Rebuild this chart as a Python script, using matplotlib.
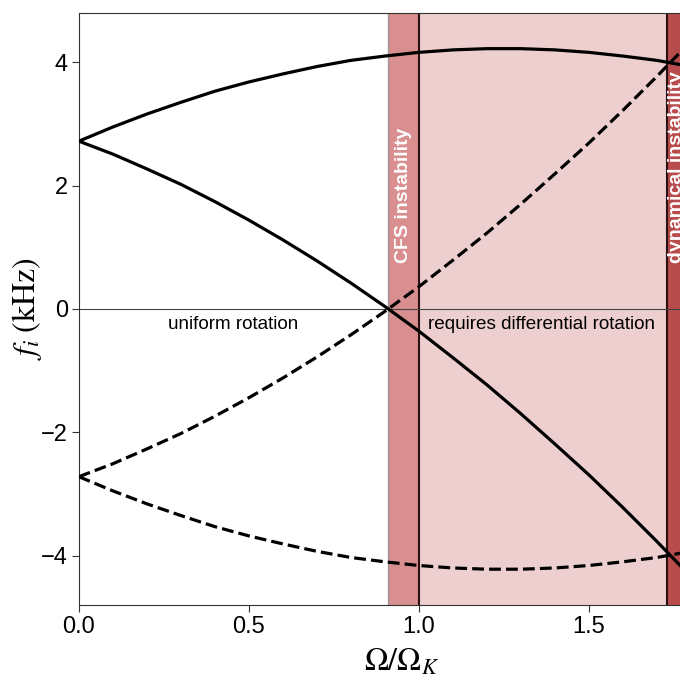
import matplotlib
matplotlib.use("Agg")
import matplotlib.pyplot as plt

plt.rcParams['font.family'] = ['Liberation Sans', 'DejaVu Sans']
plt.rcParams['mathtext.fontset'] = 'stix'

# rotation rate Omega/Omega_K
omega = [0.0, 0.1, 0.2, 0.3, 0.4, 0.5, 0.6, 0.7, 0.8, 0.9, 1.0, 1.1, 1.2,
         1.3, 1.4, 1.5, 1.6, 1.7, 1.8]
# solid branches (kHz)
f_upper = [2.72, 2.95, 3.16, 3.35, 3.53, 3.68, 3.81, 3.93, 4.03, 4.10, 4.16,
           4.20, 4.22, 4.22, 4.20, 4.16, 4.10, 4.03, 3.93]
f_lower = [2.72, 2.51, 2.27, 2.02, 1.74, 1.44, 1.12, 0.78, 0.42, 0.04, -0.36,
           -0.79, -1.23, -1.70, -2.19, -2.69, -3.22, -3.77, -4.34]
# dashed branches (kHz)
f_dash_up = [-2.72, -2.51, -2.27, -2.02, -1.74, -1.44, -1.12, -0.78, -0.42,
             -0.04, 0.36, 0.79, 1.23, 1.70, 2.19, 2.69, 3.22, 3.77, 4.34]
f_dash_down = [-2.72, -2.95, -3.16, -3.35, -3.53, -3.68, -3.81, -3.93, -4.03,
               -4.10, -4.16, -4.20, -4.22, -4.22, -4.20, -4.16, -4.10, -4.03,
               -3.93]

cfs_start, kepler, dyn_start, x_max = 0.91, 1.0, 1.73, 1.9

fig = plt.figure(figsize=(6.8, 6.78), dpi=100)
ax = fig.add_axes([0.116, 0.1077, 0.95, 0.8733])

ax.axvspan(cfs_start, kepler, color='#d98e8f', lw=0, zorder=0)
ax.axvspan(kepler, dyn_start, color='#eecfcf', lw=0, zorder=0)
ax.axvspan(dyn_start, x_max, color='#b84c4c', lw=0, zorder=0)
ax.axvline(cfs_start, color='#999999', lw=1.0, zorder=1)
ax.axvline(kepler, color='#2a1010', lw=1.5, zorder=1)
ax.axvline(dyn_start, color='#2a1010', lw=1.5, zorder=1)
ax.axhline(0, color='#444444', lw=0.8, zorder=1)

ax.plot(omega, f_upper, color='black', lw=2.3, zorder=3)
ax.plot(omega, f_lower, color='black', lw=2.3, zorder=3)
ax.plot(omega, f_dash_up, color='black', lw=2.3, ls='--', zorder=3)
ax.plot(omega, f_dash_down, color='black', lw=2.3, ls='--', zorder=3)

ax.text(0.955, 0.75, 'CFS instability', rotation=90, color='white',
        fontweight='bold', fontsize=14, ha='center', va='bottom')
ax.text(1.757, 0.75, 'dynamical instability', rotation=90, color='white',
        fontweight='bold', fontsize=14, ha='center', va='bottom')
ax.text(0.455, -0.12, 'uniform rotation', fontsize=13.6, ha='center', va='top')
ax.text(1.36, -0.12, 'requires differential rotation', fontsize=13.6,
        ha='center', va='top')

ax.set_xlim(0, x_max)
ax.set_ylim(-4.8, 4.8)
ax.set_xticks([0.0, 0.5, 1.0, 1.5])
ax.set_yticks([-4, -2, 0, 2, 4])
ax.tick_params(labelsize=17, direction='out', length=5, width=0.8, pad=3,
               colors='#333333', labelcolor='black')
for s in ax.spines.values():
    s.set_color('#333333')
    s.set_linewidth(0.8)

ax.set_xlabel(r'$\Omega/\Omega_K$', fontsize=23, labelpad=7)
ax.set_ylabel(r'$f_i\;(\mathrm{kHz})$', fontsize=23)
ax.yaxis.set_label_coords(-0.054, 0.5)

fig.savefig('out.png', dpi=100)
